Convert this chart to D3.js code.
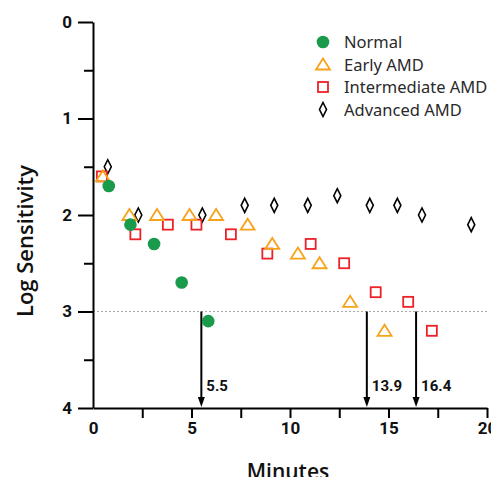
<!DOCTYPE html>
<html>
<head>
<meta charset="utf-8">
<script src="https://cdn.jsdelivr.net/npm/d3@7"></script>
<style>
body { margin: 0; background: #fff; }
svg { display: block; }
.tick text { font-family: Roboto, sans-serif; font-weight: bold; font-size: 17px; fill: #111; }
</style>
</head>
<body>
<div id="chart"></div>
<script>
// data: [minutes, log sensitivity]
var normal = [[0.8, 1.7], [1.9, 2.1], [3.1, 2.3], [4.5, 2.7], [5.85, 3.1]];
var earlyAmd = [[0.5, 1.6], [1.85, 2.0], [3.25, 2.0], [4.9, 2.0], [6.25, 2.0], [7.85, 2.1],
    [9.1, 2.3], [10.4, 2.4], [11.5, 2.5], [13.05, 2.9], [14.8, 3.2]];
var intermediateAmd = [[0.45, 1.6], [2.15, 2.2], [3.8, 2.1], [5.25, 2.1], [7.0, 2.2], [8.85, 2.4],
    [11.05, 2.3], [12.75, 2.5], [14.35, 2.8], [16.0, 2.9], [17.2, 3.2]];
var advancedAmd = [[0.75, 1.5], [2.3, 2.0], [5.55, 2.0], [7.7, 1.9], [9.2, 1.9], [10.9, 1.9],
    [12.4, 1.8], [14.05, 1.9], [15.45, 1.9], [16.7, 2.0], [19.2, 2.1]];
var legendLabels = ["Normal", "Early AMD", "Intermediate AMD", "Advanced AMD"];
var threshold = 3;
var recoveryTimes = [5.5, 13.9, 16.4];
var xTicks = [0, 2.5, 5, 7.5, 10, 12.5, 15, 17.5, 20];
var yMajor = [0, 1, 2, 3, 4];
var yMinor = [0.5, 1.5, 2.5, 3.5];

var width = 491, height = 477;

var svg = d3.select("#chart").append("svg")
    .attr("width", width)
    .attr("height", height);

// scales
var x = d3.scaleLinear().domain([0, 20]).range([93, 487]);
var y = d3.scaleLinear().domain([0, 4]).range([22, 408]);

// dotted threshold line
svg.append("line")
    .attr("x1", x(0)).attr("x2", x(20))
    .attr("y1", y(threshold)).attr("y2", y(threshold))
    .attr("stroke", "#aaa")
    .attr("stroke-width", 1.2)
    .attr("stroke-dasharray", "2,2");

// y axis
var yAxis = svg.append("g")
    .attr("transform", "translate(" + x(0) + ",0)")
    .call(d3.axisLeft(y).tickValues(yMajor).tickSize(15).tickPadding(6).tickSizeOuter(0)
        .tickFormat(d3.format("d")));
svg.append("g")
    .attr("transform", "translate(" + x(0) + ",0)")
    .call(d3.axisLeft(y).tickValues(yMinor).tickSize(9).tickFormat(""))
    .select(".domain").remove();

// x axis
var xAxis = svg.append("g")
    .attr("transform", "translate(0," + y(4) + ")")
    .call(d3.axisBottom(x).tickValues(xTicks).tickSize(10).tickPadding(4).tickSizeOuter(0)
        .tickFormat(function (d) { return d % 5 === 0 ? d : ""; }));
xAxis.selectAll(".tick").filter(function (d) { return d === 0; }).select("line").remove();

svg.selectAll(".domain, .tick line")
    .attr("stroke", "#000")
    .attr("stroke-width", 2);

// arrows from the threshold line down to the axis
var arrows = svg.append("g");
recoveryTimes.forEach(function (t) {
    arrows.append("line")
        .attr("x1", x(t)).attr("x2", x(t))
        .attr("y1", y(threshold)).attr("y2", y(4) - 8)
        .attr("stroke", "#000")
        .attr("stroke-width", 2);
    arrows.append("path")
        .attr("d", "M" + (x(t) - 3.5) + "," + (y(4) - 11) + "L" + (x(t) + 3.5) + "," + (y(4) - 11) +
            "L" + x(t) + "," + (y(4) - 1) + "Z")
        .attr("fill", "#000");
    arrows.append("text")
        .attr("x", x(t) + 5)
        .attr("y", 391)
        .attr("font-family", "Roboto, sans-serif")
        .attr("font-weight", "bold")
        .attr("font-size", 15)
        .attr("fill", "#111")
        .text(t);
});

// symbols
var shapes = {
    circle: function (g, cx, cy) {
        g.append("circle").attr("cx", cx).attr("cy", cy).attr("r", 6.3)
            .attr("fill", "#1a9a4b");
    },
    triangle: function (g, cx, cy) {
        g.append("path")
            .attr("d", "M" + cx + "," + (cy - 6) + "L" + (cx + 7) + "," + (cy + 5) + "L" + (cx - 7) + "," + (cy + 5) + "Z")
            .attr("fill", "none").attr("stroke", "#f7a21b").attr("stroke-width", 1.8);
    },
    square: function (g, cx, cy) {
        g.append("rect").attr("x", cx - 5).attr("y", cy - 5).attr("width", 10).attr("height", 10)
            .attr("fill", "none").attr("stroke", "#ec2227").attr("stroke-width", 1.8);
    },
    diamond: function (g, cx, cy) {
        g.append("path")
            .attr("d", "M" + cx + "," + (cy - 7) + "L" + (cx + 3.5) + "," + cy + "L" + cx + "," + (cy + 7) + "L" + (cx - 3.5) + "," + cy + "Z")
            .attr("fill", "none").attr("stroke", "#000").attr("stroke-width", 1.6);
    }
};

var series = [
    { data: advancedAmd, shape: "diamond" },
    { data: intermediateAmd, shape: "square" },
    { data: earlyAmd, shape: "triangle" },
    { data: normal, shape: "circle" }
];
var marks = svg.append("g");
series.forEach(function (s) {
    s.data.forEach(function (d) {
        shapes[s.shape](marks, x(d[0]), y(d[1]));
    });
});

// legend
var legendShapes = ["circle", "triangle", "square", "diamond"];
var legend = svg.append("g");
legendLabels.forEach(function (label, i) {
    var ly = 42 + i * 22.5;
    shapes[legendShapes[i]](legend, 323, ly);
    legend.append("text")
        .attr("x", 344)
        .attr("y", ly + 6)
        .attr("font-family", "'Noto Sans', sans-serif")
        .attr("font-size", 16.5)
        .attr("fill", "#2a2a2a")
        .text(label);
});

// axis titles
svg.append("text")
    .attr("transform", "translate(33,241) rotate(-90)")
    .attr("text-anchor", "middle")
    .attr("font-family", "'Open Sans', sans-serif")
    .attr("font-weight", 600)
    .attr("font-size", 22)
    .attr("fill", "#111")
    .text("Log Sensitivity");

svg.append("text")
    .attr("x", 288)
    .attr("y", 479)
    .attr("text-anchor", "middle")
    .attr("font-family", "'Open Sans', sans-serif")
    .attr("font-weight", 600)
    .attr("font-size", 21)
    .attr("fill", "#111")
    .text("Minutes");
</script>
</body>
</html>
